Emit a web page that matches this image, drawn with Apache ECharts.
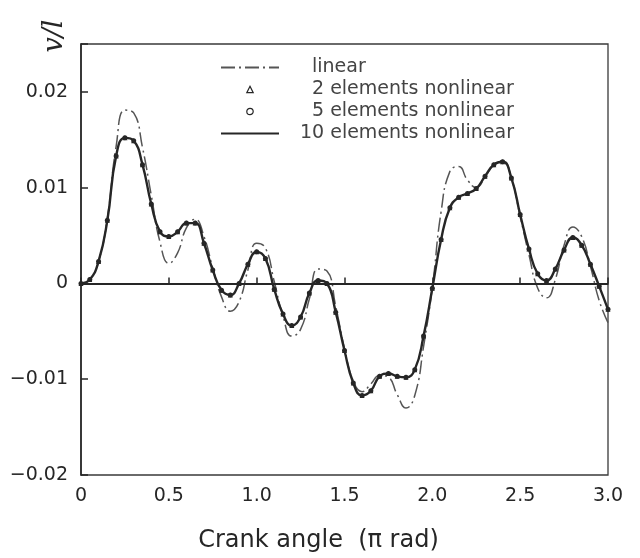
<!DOCTYPE html>
<html><head><meta charset="utf-8">
<script src="https://cdn.jsdelivr.net/npm/echarts@6/dist/echarts.min.js"></script>
<style>html,body{margin:0;padding:0;background:#fff}#c{width:640px;height:558px}</style>
</head><body><div id="c"></div>
<script>
const crankAngle = [0,0.05,0.1,0.15,0.2,0.25,0.3,0.35,0.4,0.45,0.5,0.55,0.6,0.65,0.7,0.75,0.8,0.85,0.9,0.95,
  1.0,1.05,1.1,1.15,1.2,1.25,1.3,1.35,1.4,1.45,1.5,1.55,1.6,1.65,1.7,1.75,1.8,1.85,1.9,1.95,
  2.0,2.05,2.1,2.15,2.2,2.25,2.3,2.35,2.4,2.45,2.5,2.55,2.6,2.65,2.7,2.75,2.8,2.85,2.9,2.95,3.0];
const linear = [0,0.0004,0.0023,0.0068,0.0143,0.0181,0.0178,0.0142,0.0092,0.0043,0.0021,0.0032,0.0058,0.0067,0.0049,0.0016,-0.0014,-0.0029,-0.0019,0.0014,
  0.0042,0.0037,0.0002,-0.0034,-0.0055,-0.0048,-0.0016,0.0015,0.0013,-0.0024,-0.0068,-0.0102,-0.0113,-0.0105,-0.0096,-0.0098,-0.0116,-0.0130,-0.0117,-0.0066,
  -0.0004,0.0075,0.0117,0.0122,0.0108,0.0100,0.0111,0.0124,0.0128,0.0110,0.0070,0.0030,-0.0005,-0.0015,0.0004,0.0040,0.0059,0.0049,0.0018,-0.0018,-0.0041];
const nonlinear2 = [0,0.0004,0.0023,0.0066,0.0133,0.0152,0.0149,0.0124,0.0083,0.0054,0.0049,0.0054,0.0063,0.0063,0.0042,0.0014,-0.0007,-0.0012,0.0000,0.0020,
  0.0033,0.0026,-0.0006,-0.0032,-0.0044,-0.0035,-0.0010,0.0003,0.0000,-0.0030,-0.0070,-0.0104,-0.0117,-0.0112,-0.0097,-0.0094,-0.0097,-0.0098,-0.0090,-0.0055,
  -0.0005,0.0046,0.0079,0.0090,0.0094,0.0099,0.0112,0.0124,0.0127,0.0110,0.0072,0.0036,0.0010,0.0003,0.0015,0.0035,0.0048,0.0040,0.0020,-0.0003,-0.0027];
const nonlinear5 = [0,0.0004,0.0023,0.0066,0.0133,0.0152,0.0149,0.0124,0.0083,0.0054,0.0049,0.0054,0.0063,0.0063,0.0042,0.0014,-0.0007,-0.0012,0.0000,0.0020,
  0.0033,0.0026,-0.0006,-0.0032,-0.0044,-0.0035,-0.0010,0.0003,0.0000,-0.0030,-0.0070,-0.0104,-0.0117,-0.0112,-0.0097,-0.0094,-0.0097,-0.0098,-0.0090,-0.0055,
  -0.0005,0.0046,0.0079,0.0090,0.0094,0.0099,0.0112,0.0124,0.0127,0.0110,0.0072,0.0036,0.0010,0.0003,0.0015,0.0035,0.0048,0.0040,0.0020,-0.0003,-0.0027];
const nonlinear10 = [0,0.0004,0.0023,0.0066,0.0133,0.0152,0.0149,0.0124,0.0083,0.0054,0.0049,0.0054,0.0063,0.0063,0.0042,0.0014,-0.0007,-0.0012,0.0000,0.0020,
  0.0033,0.0026,-0.0006,-0.0032,-0.0044,-0.0035,-0.0010,0.0003,0.0000,-0.0030,-0.0070,-0.0104,-0.0117,-0.0112,-0.0097,-0.0094,-0.0097,-0.0098,-0.0090,-0.0055,
  -0.0005,0.0046,0.0079,0.0090,0.0094,0.0099,0.0112,0.0124,0.0127,0.0110,0.0072,0.0036,0.0010,0.0003,0.0015,0.0035,0.0048,0.0040,0.0020,-0.0003,-0.0027];
const xTickValues = [0,0.5,1.0,1.5,2.0,2.5,3.0];
const xTickLabels = ['0','0.5','1.0','1.5','2.0','2.5','3.0'];
const yTickValues = [-0.02,-0.01,0,0.01,0.02];
const yTickLabels = ['\u22120.02','\u22120.01','0','0.01','0.02'];
const seriesNames = ['linear','2 elements nonlinear','5 elements nonlinear','10 elements nonlinear'];

const ink = '#262626';
const font = 'DejaVu Sans';
const pairs = a => crankAngle.map((x, i) => [x, a[i]]);
const lookup = (vals, labs) => v => {
  for (let i = 0; i < vals.length; i++) if (Math.abs(vals[i] - v) < 1e-9) return labs[i];
  return '';
};
const hollow = {color: '#fff', borderColor: ink, borderWidth: 1.2};
const noLine = {opacity: 0, width: 0};

const chart = echarts.init(document.getElementById('c'), null, {renderer: 'canvas'});
chart.setOption({
  animation: false,
  backgroundColor: '#fff',
  grid: {left: 81, right: 32, top: 44, bottom: 83, show: true, borderColor: '#3a3a3a', borderWidth: 1.3, backgroundColor: 'transparent'},
  legend: {
    orient: 'vertical', left: 215, top: 53, itemWidth: 58, itemHeight: 8, itemGap: 3,
    textStyle: {fontFamily: font, fontSize: 19, color: '#444', padding: [0, 0, 0, 28]},
    data: [
      {name: seriesNames[0], itemStyle: {opacity: 0}},
      {name: seriesNames[1], itemStyle: hollow, lineStyle: noLine},
      {name: seriesNames[2], itemStyle: hollow, lineStyle: noLine},
      {name: seriesNames[3], itemStyle: {opacity: 0}, textStyle: {padding: [0, 0, 0, 16]}}
    ]
  },
  xAxis: {
    type: 'value', min: 0, max: 3, interval: 0.5,
    name: 'Crank angle  (\u03c0 rad)', nameLocation: 'middle', nameGap: 54,
    nameTextStyle: {fontFamily: font, fontSize: 24, color: ink, padding: [0, 52, 0, 0]},
    axisLine: {lineStyle: {color: ink, width: 1.6}},
    axisTick: {inside: true, length: 6, lineStyle: {color: ink, width: 1.5}},
    axisLabel: {margin: 12, fontFamily: font, fontSize: 19, color: ink, formatter: lookup(xTickValues, xTickLabels)},
    splitLine: {show: false}
  },
  yAxis: {
    type: 'value', min: -0.02, max: 0.025, interval: 0.01,
    axisLine: {show: true, lineStyle: {color: ink, width: 1.6}},
    axisTick: {show: true, inside: true, length: 7, lineStyle: {color: ink, width: 1.5}},
    axisLabel: {margin: 13, fontFamily: font, fontSize: 19, color: ink, formatter: lookup(yTickValues, yTickLabels)},
    splitLine: {show: false}
  },
  graphic: [{
    type: 'text', x: 55, y: 36, rotation: Math.PI / 2,
    style: {text: 'v/l', font: 'italic 27px "DejaVu Serif"', fill: ink, align: 'center', verticalAlign: 'middle'}
  }],
  series: [
    {name: seriesNames[0], type: 'line', data: pairs(linear), smooth: 0.5, symbol: 'none',
     lineStyle: {color: '#555', width: 1.5, type: [14, 4, 2, 4]}, itemStyle: {color: '#555'}, z: 2},
    {name: seriesNames[3], type: 'line', data: pairs(nonlinear10), smooth: 0.5, symbol: 'none',
     lineStyle: {color: ink, width: 2.4}, itemStyle: {color: ink}, z: 3,
     markLine: {silent: true, symbol: 'none', label: {show: false}, animation: false,
       lineStyle: {color: ink, width: 2, type: 'solid'}, data: [{yAxis: 0}]}},
    {name: seriesNames[1], type: 'line', data: pairs(nonlinear2), symbol: 'triangle', symbolSize: 5,
     showSymbol: true, lineStyle: noLine, itemStyle: {color: ink}, z: 4},
    {name: seriesNames[2], type: 'line', data: pairs(nonlinear5), symbol: 'circle', symbolSize: 5,
     showSymbol: true, lineStyle: noLine, itemStyle: {color: ink}, z: 5}
  ]
});
</script></body></html>
